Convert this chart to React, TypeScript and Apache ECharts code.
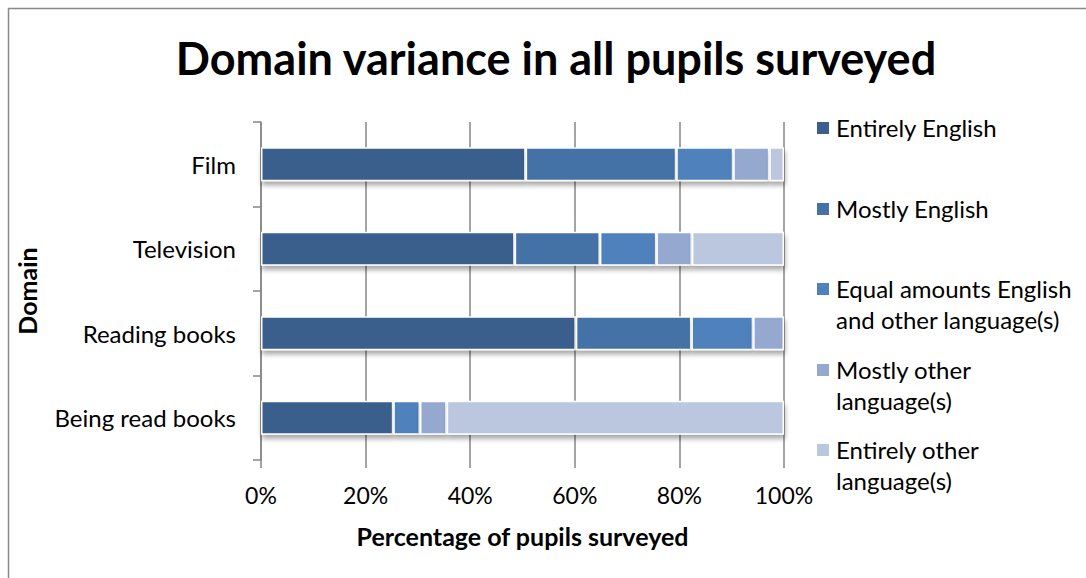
import React, { useEffect, useRef } from "react";
import * as echarts from "echarts";

const domains = ["Film", "Television", "Reading books", "Being read books"];
const seriesNames = [
  "Entirely English",
  "Mostly English",
  "Equal amounts English\nand other language(s)",
  "Mostly other\nlanguage(s)",
  "Entirely other\nlanguage(s)",
];
const entirelyEnglish = [50.6, 48.5, 60.2, 25.3];
const mostlyEnglish = [28.8, 16.3, 22.1, 0];
const equalAmounts = [10.9, 10.8, 11.8, 5.1];
const mostlyOther = [6.9, 6.8, 5.9, 5.1];
const entirelyOther = [2.8, 17.6, 0, 64.5];
const seriesValues = [entirelyEnglish, mostlyEnglish, equalAmounts, mostlyOther, entirelyOther];
const colors = ["#3A5F8D", "#4472A6", "#4F81BD", "#95A9D0", "#BBC7DF"];
const xTicks = [0, 20, 40, 60, 80, 100];

const FONT = "Lato, 'Noto Sans', sans-serif";

export default function App() {
  const ref = useRef<HTMLDivElement>(null);

  useEffect(() => {
    if (!ref.current) return;
    const chart = echarts.init(ref.current, undefined, { renderer: "svg" });

    const legendTops = [128, 209, 289, 370, 450];
    const legendGraphics: any[] = [];
    seriesNames.forEach((name, i) => {
      legendGraphics.push({
        type: "rect",
        shape: { x: 817, y: legendTops[i] - 6, width: 12, height: 12 },
        style: { fill: colors[i] },
      });
      legendGraphics.push({
        type: "text",
        x: 836,
        y: legendTops[i] - 16,
        style: {
          text: name,
          font: `24px ${FONT}`,
          fill: "#000",
          lineHeight: 31,
          verticalAlign: "top",
        },
      });
    });

    chart.setOption({
      animation: false,
      backgroundColor: "#fff",
      title: {
        text: "Domain variance in all pupils surveyed",
        left: 551,
        top: 30,
        textAlign: "center",
        textStyle: { fontFamily: FONT, fontSize: 45, fontWeight: "bold", color: "#000" },
      },
      grid: { left: 261, right: 302, top: 122, bottom: 118 },
      xAxis: {
        type: "value",
        min: 0,
        max: 100,
        interval: 20,
        name: "Percentage of pupils surveyed",
        nameLocation: "middle",
        nameGap: 63,
        nameTextStyle: { fontFamily: FONT, fontSize: 25, fontWeight: "bold", color: "#000" },
        axisLine: { show: false },
        axisTick: { show: true, length: 8, lineStyle: { color: "#868686", width: 1.5 } },
        splitLine: { show: true, lineStyle: { color: "#868686", width: 1.5 } },
        axisLabel: {
          margin: 23,
          fontFamily: FONT,
          fontSize: 23,
          color: "#000",
          formatter: (v: number) => (xTicks.includes(v) ? `${v}%` : ""),
        },
      },
      yAxis: {
        type: "category",
        data: domains,
        inverse: true,
        name: "Domain",
        nameLocation: "middle",
        nameGap: 222,
        nameRotate: 90,
        nameTextStyle: { fontFamily: FONT, fontSize: 25, fontWeight: "bold", color: "#000" },
        axisLine: { show: true, lineStyle: { color: "#868686", width: 1.5 } },
        axisTick: { show: true, length: 8, lineStyle: { color: "#868686", width: 1.5 } },
        axisLabel: { margin: 25, fontFamily: FONT, fontSize: 24, color: "#000" },
      },
      series: seriesNames.map((name, i) => ({
        name,
        type: "bar",
        stack: "total",
        barWidth: "40%",
        data: seriesValues[i],
        itemStyle: {
          color: colors[i],
          borderColor: "#fff",
          borderWidth: 1.5,
          shadowColor: "rgba(0,0,0,0.35)",
          shadowBlur: 5,
          shadowOffsetX: 1,
          shadowOffsetY: 4,
        },
      })),
      graphic: [
        {
          type: "rect",
          shape: { x: 8.5, y: 8.5, width: 1090, height: 580 },
          style: { fill: "none", stroke: "#888", lineWidth: 1.5 },
          silent: true,
        },
        ...legendGraphics,
      ],
    });

    return () => chart.dispose();
  }, []);

  return (
    <div
      ref={ref}
      style={{ position: "absolute", left: 0, top: 0, width: 1086, height: 578 }}
    />
  );
}
